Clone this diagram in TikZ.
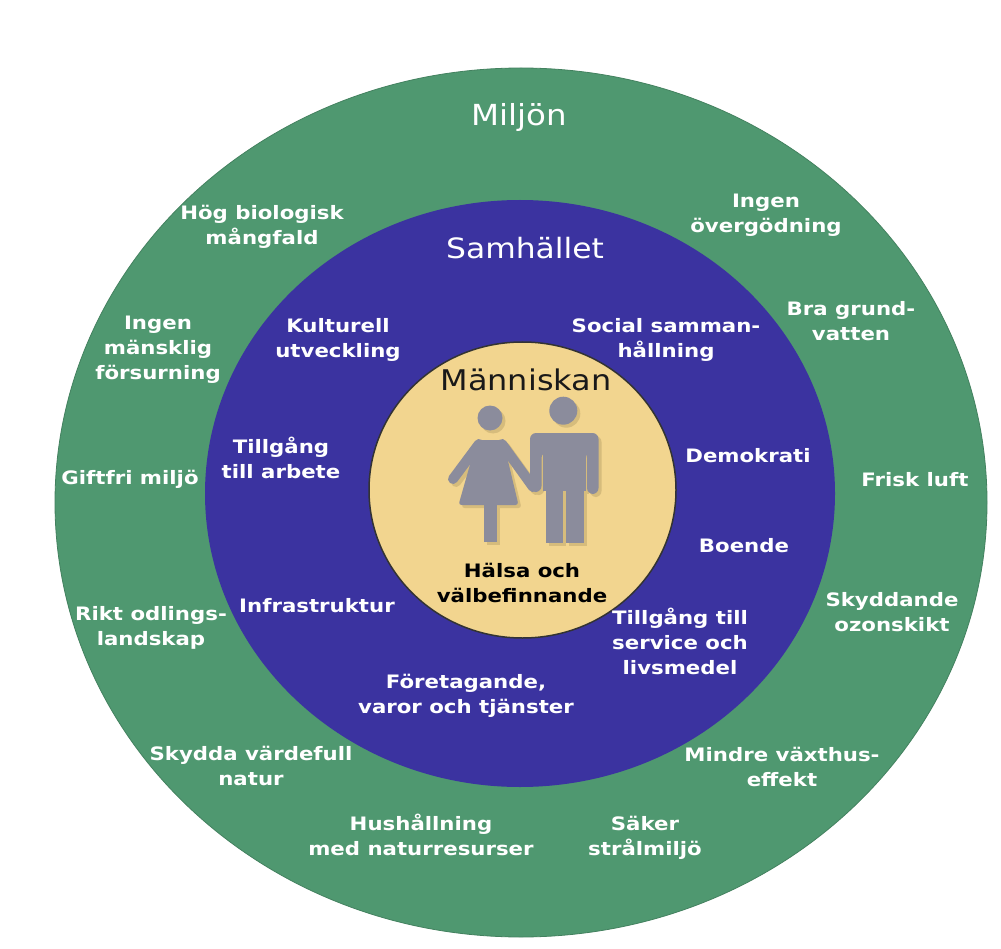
\documentclass[tikz,border=0pt]{standalone}
\usepackage{fontspec}
\newfontfamily\ringfont{DejaVu Sans}[FakeStretch=1.15]
\newfontfamily\headfont{DejaVu Sans}[FakeStretch=1.12]
\definecolor{miljo}{RGB}{79,152,112}
\definecolor{samhalle}{RGB}{59,51,160}
\definecolor{manniska}{RGB}{242,213,143}
\definecolor{figur}{RGB}{139,140,156}
\definecolor{skugga}{RGB}{214,188,124}

\begin{document}
\begin{tikzpicture}[x=1pt,y=-1pt,
    lbl/.style={text=white,align=center,inner sep=0pt,font=\ringfont\bfseries\fontsize{18.5}{25}\selectfont},
    rubrik/.style={text=white,inner sep=0pt,font=\headfont\fontsize{28}{30}\selectfont}]
  \fill[white] (0,0) rectangle (1001,949);
  % the three rings
  \filldraw[fill=miljo,draw=miljo!85!black,line width=0.8pt] (521,502.5) ellipse [x radius=466,y radius=434.5];
  \fill[samhalle] (520,493.5) ellipse [x radius=315,y radius=293.5];
  \filldraw[fill=manniska,draw=black!80,line width=1.5pt] (522.5,490) ellipse [x radius=153.5,y radius=148];

  % the couple, shadow first
  \foreach \d/\c in {3/skugga,0/figur} {
    \begin{scope}[shift={(\d,\d)}]
      \fill[\c] (490,418) circle [radius=12.5];
      \fill[\c,rounded corners=3pt] (477,440) -- (503,440) -- (518.5,505) -- (458.5,505) -- cycle;
      \draw[\c,line width=10pt,line cap=round] (479,444) -- (453,479);
      \draw[\c,line width=10pt,line cap=round] (502,444) -- (533,487);
      \fill[\c] (484,504) rectangle (497,542);
      \fill[\c] (563.3,410.7) circle [radius=14];
      \fill[\c,rounded corners=6pt] (530,492) -- (530,433) -- (598.5,433) -- (598.5,494) -- (587,494) -- (587,452) -- (541.5,452) -- (541.5,492) -- cycle;
      \fill[\c] (542.5,440) rectangle (586,491);
      \fill[\c] (546,490) rectangle (563,543);
      \fill[\c] (566,490) rectangle (584,543);
    \end{scope}
  }

  % titles
  \node[rubrik,font=\headfont\fontsize{29}{31}\selectfont] (miljon) at (519,118) {Miljön};
  \node[rubrik] (samhallet) at (525,248) {Samhället};
  \node[rubrik,text=black!90,font=\headfont\fontsize{28.5}{31}\selectfont] (manniskan) at (526,380) {Människan};

  % environment goals
  \node[lbl] (hog) at (262,227) {Hög biologisk\\mångfald};
  \node[lbl] (overgod) at (766,215) {Ingen\\övergödning};
  \node[lbl] (bragrund) at (851,321) {Bra grund-\\vatten};
  \node[lbl] (forsur) at (158,350) {Ingen\\mänsklig\\försurning};
  \node[lbl] (giftfri) at (130,479) {Giftfri miljö};
  \node[lbl] (frisk) at (915,480) {Frisk luft};
  \node[lbl] (rikt) at (151,628) {Rikt odlings-\\landskap};
  \node[lbl] (ozon) at (892,612) {Skyddande\\ozonskikt};
  \node[lbl] (natur) at (251,766) {Skydda värdefull\\natur};
  \node[lbl] (vaxthus) at (782,767) {Mindre växthus-\\effekt};
  \node[lbl] (hushall) at (421,835) {Hushållning\\med naturresurser};
  \node[lbl] (saker) at (645,838) {Säker\\strålmiljö};

  % society
  \node[lbl] (kultur) at (338,340) {Kulturell\\utveckling};
  \node[lbl] (social) at (666,340) {Social samman-\\hållning};
  \node[lbl] (arbete) at (281,458) {Tillgång\\till arbete};
  \node[lbl] (demokrati) at (748,456) {Demokrati};
  \node[lbl] (boende) at (744,546) {Boende};
  \node[lbl] (infra) at (317,606) {Infrastruktur};
  \node[lbl] (service) at (680,641) {Tillgång till\\service och\\livsmedel};
  \node[lbl] (foretag) at (466,696) {Företagande,\\varor och tjänster};

  % the human
  \node[lbl,text=black] (halsa) at (522,583) {Hälsa och\\välbefinnande};
\end{tikzpicture}
\end{document}
